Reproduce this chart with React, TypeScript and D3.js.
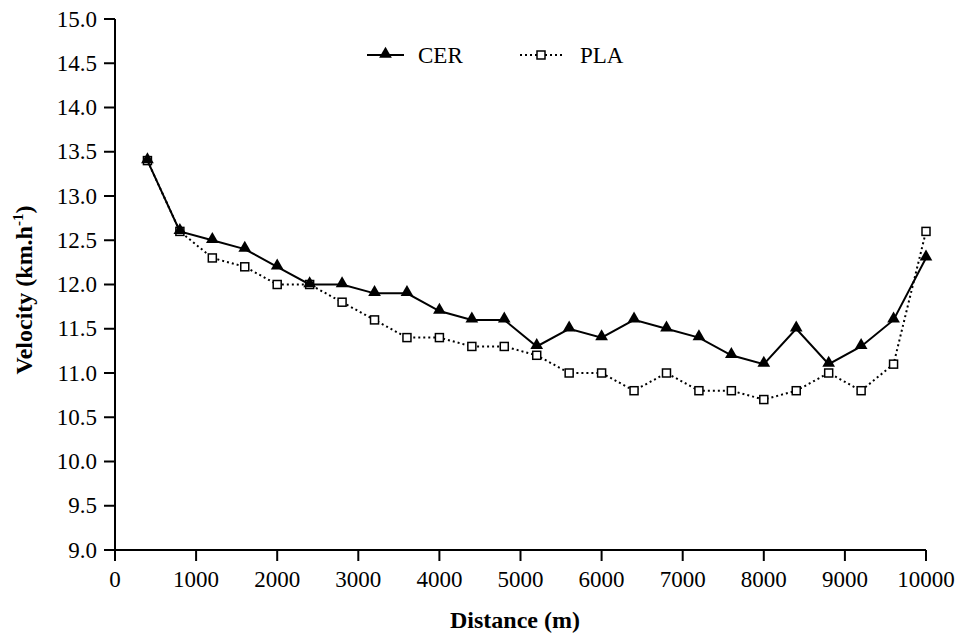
import React from 'react';
import * as d3 from 'd3';

// distance in metres, one point every 400 m
const distances = [400, 800, 1200, 1600, 2000, 2400, 2800, 3200, 3600, 4000, 4400, 4800, 5200,
  5600, 6000, 6400, 6800, 7200, 7600, 8000, 8400, 8800, 9200, 9600, 10000];
const cer = [13.4, 12.6, 12.5, 12.4, 12.2, 12.0, 12.0, 11.9, 11.9, 11.7, 11.6, 11.6, 11.3,
  11.5, 11.4, 11.6, 11.5, 11.4, 11.2, 11.1, 11.5, 11.1, 11.3, 11.6, 12.3];
const pla = [13.4, 12.6, 12.3, 12.2, 12.0, 12.0, 11.8, 11.6, 11.4, 11.4, 11.3, 11.3, 11.2,
  11.0, 11.0, 10.8, 11.0, 10.8, 10.8, 10.7, 10.8, 11.0, 10.8, 11.1, 12.6];
const xTicks = [0, 1000, 2000, 3000, 4000, 5000, 6000, 7000, 8000, 9000, 10000];
const yTicks = [9.0, 9.5, 10.0, 10.5, 11.0, 11.5, 12.0, 12.5, 13.0, 13.5, 14.0, 14.5, 15.0];

const W = 959;
const H = 637;
const FONT = 'Liberation Serif';

const x = d3.scaleLinear().domain([0, 10000]).range([115, 926]);
const y = d3.scaleLinear().domain([9, 15]).range([550, 19]);

const line = d3.line<number>()
  .x((_, i) => x(distances[i]))
  .y(d => y(d));

const tri = d3.symbol().type(d3.symbolTriangle).size(70)() as string;

const txt = (size: number, bold?: boolean) => ({
  fontFamily: FONT,
  fontSize: size,
  fontWeight: bold ? 'bold' : 'normal',
} as React.CSSProperties);

export default function App() {
  const b = y.range()[0];
  const l = x.range()[0];
  return (
    <>
      <style>{'body{margin:0}'}</style>
      <svg width={W} height={H} style={{ display: 'block', background: '#fff' }}>
        {/* x axis */}
        <line x1={l} x2={x(10000)} y1={b} y2={b} stroke="#000" strokeWidth={2} />
        {xTicks.map(t => (
          <g key={t} transform={`translate(${x(t)},${b})`}>
            <line y1={0} y2={11} stroke="#000" strokeWidth={2} />
            <text y={37} textAnchor="middle" style={txt(23)}>{t}</text>
          </g>
        ))}
        {/* y axis */}
        <line x1={l} x2={l} y1={y(15)} y2={b + 1} stroke="#000" strokeWidth={2} />
        {yTicks.map(t => (
          <g key={t} transform={`translate(${l},${y(t)})`}>
            <line x1={-11} x2={0} stroke="#000" strokeWidth={2} />
            <text x={-18} dy="0.33em" textAnchor="end" style={txt(23)}>{d3.format('.1f')(t)}</text>
          </g>
        ))}

        {/* axis titles */}
        <text x={515} y={628} textAnchor="middle" style={txt(24, true)}>Distance (m)</text>
        <text transform="translate(32,290) rotate(-90)" textAnchor="middle" style={txt(24, true)}>
          <tspan>Velocity (km.h</tspan>
          <tspan dy={-9} style={{ fontSize: 15 }}>-1</tspan>
          <tspan dy={9}>)</tspan>
        </text>

        {/* PLA */}
        <path d={line(pla) as string} fill="none" stroke="#000" strokeWidth={2} strokeDasharray="2,3" />
        {pla.map((v, i) => (
          <rect key={i} x={x(distances[i]) - 4} y={y(v) - 4} width={8} height={8}
            fill="#fff" stroke="#000" strokeWidth={1.5} />
        ))}

        {/* CER */}
        <path d={line(cer) as string} fill="none" stroke="#000" strokeWidth={2} />
        {cer.map((v, i) => (
          <path key={i} d={tri} transform={`translate(${x(distances[i])},${y(v) - 1})`} fill="#000" />
        ))}

        {/* legend */}
        <line x1={367} x2={404} y1={55} y2={55} stroke="#000" strokeWidth={2} />
        <path d={tri} transform="translate(385.5,54)" fill="#000" />
        <text x={418} y={63} style={txt(23)}>CER</text>
        <line x1={520} x2={562} y1={55} y2={55} stroke="#000" strokeWidth={2} strokeDasharray="2,3" />
        <rect x={537} y={51} width={8} height={8} fill="#fff" stroke="#000" strokeWidth={1.5} />
        <text x={580} y={63} style={txt(23)}>PLA</text>
      </svg>
    </>
  );
}
